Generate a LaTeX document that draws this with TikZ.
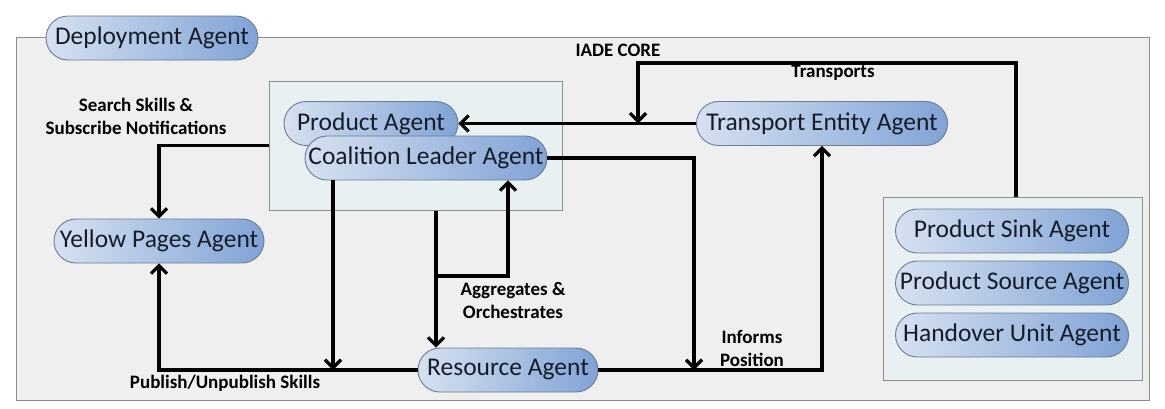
\documentclass[tikz,border=0pt]{standalone}
\usepackage{fontspec}
\setmainfont{Carlito}
\usetikzlibrary{shapes.misc,arrows.meta,calc}

\definecolor{pillhi}{RGB}{214,225,240}
\definecolor{pilllo}{RGB}{128,163,214}
\definecolor{pilledge}{RGB}{106,124,150}
\definecolor{framefill}{RGB}{238,239,238}
\definecolor{corefill}{RGB}{233,240,241}
\definecolor{frameedge}{RGB}{140,140,140}
\definecolor{agenttext}{RGB}{22,28,40}

\begin{document}
\begin{tikzpicture}
  [
    x=1pt, y=-1pt,
    agent/.style =
      {rounded rectangle, draw=pilledge, line width=0.9pt, left color=pillhi,
       right color=pilllo, text=agenttext, font=\fontsize{25.5}{28}\selectfont,
       minimum height=44pt, inner xsep=2pt},
    panel/.style =
      {draw=frameedge, line width=1pt, inner sep=0pt},
    flow/.style =
      {line width=3.2pt, -{Straight Barb[length=8pt,width=16pt]}},
    note/.style =
      {font=\bfseries\fontsize{19}{23}\selectfont, align=center}
  ]

\useasboundingbox (0,0) rectangle (1165,408);

\node[panel, fill=framefill, minimum width=1133pt, minimum height=363pt] (iade) at (582.5,218.5) {};
\node[agent, minimum width=216pt] (dep) at (152,38) {Deployment Agent};

\node[panel, fill=corefill, minimum width=293pt, minimum height=129pt] (core) at (415.5,145.5) {};
\node[panel, fill=corefill, minimum width=259pt, minimum height=183pt] (hub) at (1012.5,288.5) {};

\node[agent, minimum width=178pt] (prod) at (371,123.5) {Product Agent};
\node[agent, minimum width=246pt] (coal) at (426,158) {Coalition Leader Agent};
\node[agent, minimum width=255pt] (trans) at (822,123.5) {Transport Entity Agent};
\node[agent, minimum width=214pt] (yp) at (159,241) {Yellow Pages Agent};
\node[agent, minimum width=184pt] (res) at (508,370) {Resource Agent};

\node[agent, minimum width=237pt] (sink) at (1012,231) {Product Sink Agent};
\node[agent, minimum width=237pt] (source) at (1012,283) {Product Source Agent};
\node[agent, minimum width=237pt] (handover) at (1012,335) {Handover Unit Agent};

\node[note] (core-label) at (618,50) {IADE CORE};
\node[note] (search-label) at (136,116) {Search Skills \&\\Subscribe Notifications};
\node[note] (trans-label) at (833,73) {Transports};
\node[note] (aggr-label) at (513,301) {Aggregates \&\\Orchestrates};
\node[note] (pos-label) at (752,348) {Informs\\Position};
\node[note] (pub-label) at (225,383) {Publish/Unpublish Skills};

\coordinate (top) at (638,63);
\coordinate (fork) at (436,276);
\coordinate (pubjoin) at (333,370);
\coordinate (posjoin) at (694,370);

\draw [flow] (core.west) -| (yp.north);
\draw [flow] (trans.west) -- (prod.east);
\draw [flow] ($(hub.north)+(3.5,0)$) |- (top) -- (top |- prod.east);

\draw [flow] (coal.east) -| (posjoin);
\draw [flow] (res.east) -| (trans.south);
\draw [flow] (res.west) -| (yp.south);
\draw [flow] ($(coal.south)+(-93,0)$) -- (pubjoin);

\draw [flow] ($(core.south)+(20.5,0)$) -- ($(res.north)+(-72,0)$);
\draw [flow] (fork) -| ($(coal.south)+(82,0)$);

\end{tikzpicture}
\end{document}
